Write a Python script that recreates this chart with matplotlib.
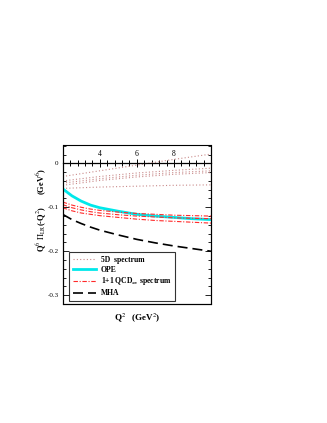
import matplotlib
matplotlib.use('Agg')
import matplotlib.pyplot as plt
from matplotlib.ticker import MultipleLocator, FixedLocator
from matplotlib.patches import Rectangle

plt.rcParams['font.family'] = ['Liberation Serif', 'DejaVu Serif']
plt.rcParams['axes.unicode_minus'] = False
plt.rcParams['mathtext.fontset'] = 'stix'

###################################################  data

q2 = [2, 2.5, 3, 3.5, 4, 5, 6, 7, 8, 9, 10]
ope = [-0.058, -0.074, -0.086, -0.095, -0.101, -0.109, -0.116, -0.120, -0.123, -0.126, -0.128]
mha = [-0.116, -0.128, -0.137, -0.145, -0.152, -0.163, -0.173, -0.181, -0.188, -0.194, -0.200]

# 1+1 QCD_inf spectrum curves
qcd_1 = [-0.088, -0.095, -0.100, -0.104, -0.107, -0.111, -0.114, -0.116, -0.118, -0.119, -0.120]
qcd_2 = [-0.094, -0.101, -0.106, -0.110, -0.113, -0.117, -0.120, -0.122, -0.124, -0.125, -0.126]
qcd_3 = [-0.101, -0.108, -0.113, -0.116, -0.119, -0.123, -0.127, -0.130, -0.132, -0.134, -0.136]

# 5D spectrum curves
q2_5d = [2, 4, 6, 8, 10]
fived_1 = [-0.030, -0.017, -0.004, 0.009, 0.021]
fived_2 = [-0.040, -0.030, -0.022, -0.016, -0.011]
fived_3 = [-0.045, -0.035, -0.027, -0.021, -0.017]
fived_4 = [-0.050, -0.039, -0.031, -0.025, -0.021]
fived_5 = [-0.057, -0.054, -0.052, -0.050, -0.049]

x_ticks = [4, 6, 8]

###################################### drawing

fig = plt.figure(figsize=(3.27, 4.23), dpi=100)
ax = fig.add_axes([0.1917, 0.2813, 0.4536, 0.3752])

c5d = '#c98a8a'
for i, yy in enumerate([fived_1, fived_2, fived_3, fived_4, fived_5]):
    ax.plot(q2_5d, yy, ls=(0, (1, 2)), color=c5d, lw=0.8,
            label='5D  spectrum' if i == 0 else None)

ax.plot(q2, ope, color='#00e8ea', lw=2.0, label='OPE')

for i, yy in enumerate([qcd_1, qcd_2, qcd_3]):
    ax.plot(q2, yy, ls=(0, (4, 1.5, 1, 1.5)), color='#ff2a2a', lw=0.8,
            label=r'1+1 QCD$_\infty$ spectrum' if i == 0 else None)

ax.plot(q2, mha, ls=(0, (6, 3)), color='black', lw=1.2, label='MHA')

ax.set_xlim(2, 10)
ax.set_ylim(-0.32, 0.041)

# x axis drawn on the zero line, labels above it
ax.spines['top'].set_position(('data', 0))
ax.spines['top'].set_linewidth(0.9)
ax.xaxis.set_ticks_position('top')
ax.xaxis.set_label_position('bottom')
ax.xaxis.set_major_locator(FixedLocator(x_ticks))
ax.xaxis.set_minor_locator(MultipleLocator(0.4))
ax.tick_params(axis='x', which='major', direction='inout', length=6, width=0.7,
               labelsize=5.5, pad=1)
ax.tick_params(axis='x', which='minor', direction='inout', length=4, width=0.7)

ax.yaxis.set_major_locator(FixedLocator([0, -0.1, -0.2, -0.3]))
ax.yaxis.set_minor_locator(MultipleLocator(0.02))
ax.set_yticklabels(['0', '-0.1', '-0.2', '-0.3'])
ax.tick_params(axis='y', which='both', direction='in', left=True, right=True,
               labelsize=5, width=0.6, pad=3)
ax.tick_params(axis='y', which='major', length=4)
ax.tick_params(axis='y', which='minor', length=2.5)

for s in ['left', 'right', 'bottom']:
    ax.spines[s].set_linewidth(0.8)

# the box edge at the top of the frame
ax.add_patch(Rectangle((0, 0), 1, 1, transform=ax.transAxes, fill=False,
                       lw=0.8, edgecolor='black', clip_on=False))

ax.set_xlabel(r'Q$^2$   (GeV$^2$)', fontsize=6.5, fontweight='bold', labelpad=6)
ax.set_ylabel(r'Q$^6$ $\Pi_{\rm LR}$(-Q$^2$)      (GeV$^6$)', fontsize=6,
              fontweight='bold')
ax.yaxis.set_label_coords(-0.1, 0.59)

leg = ax.legend(loc='lower left', bbox_to_anchor=(0.045, 0.02),
                frameon=True, fancybox=False, handlelength=3.0, borderpad=0.45,
                labelspacing=0.25, handletextpad=0.7, borderaxespad=0,
                prop={'weight': 'bold', 'size': 5.5})
leg.get_frame().set_edgecolor('black')
leg.get_frame().set_linewidth(0.8)

fig.savefig('out.png', dpi=100)
plt.close()
